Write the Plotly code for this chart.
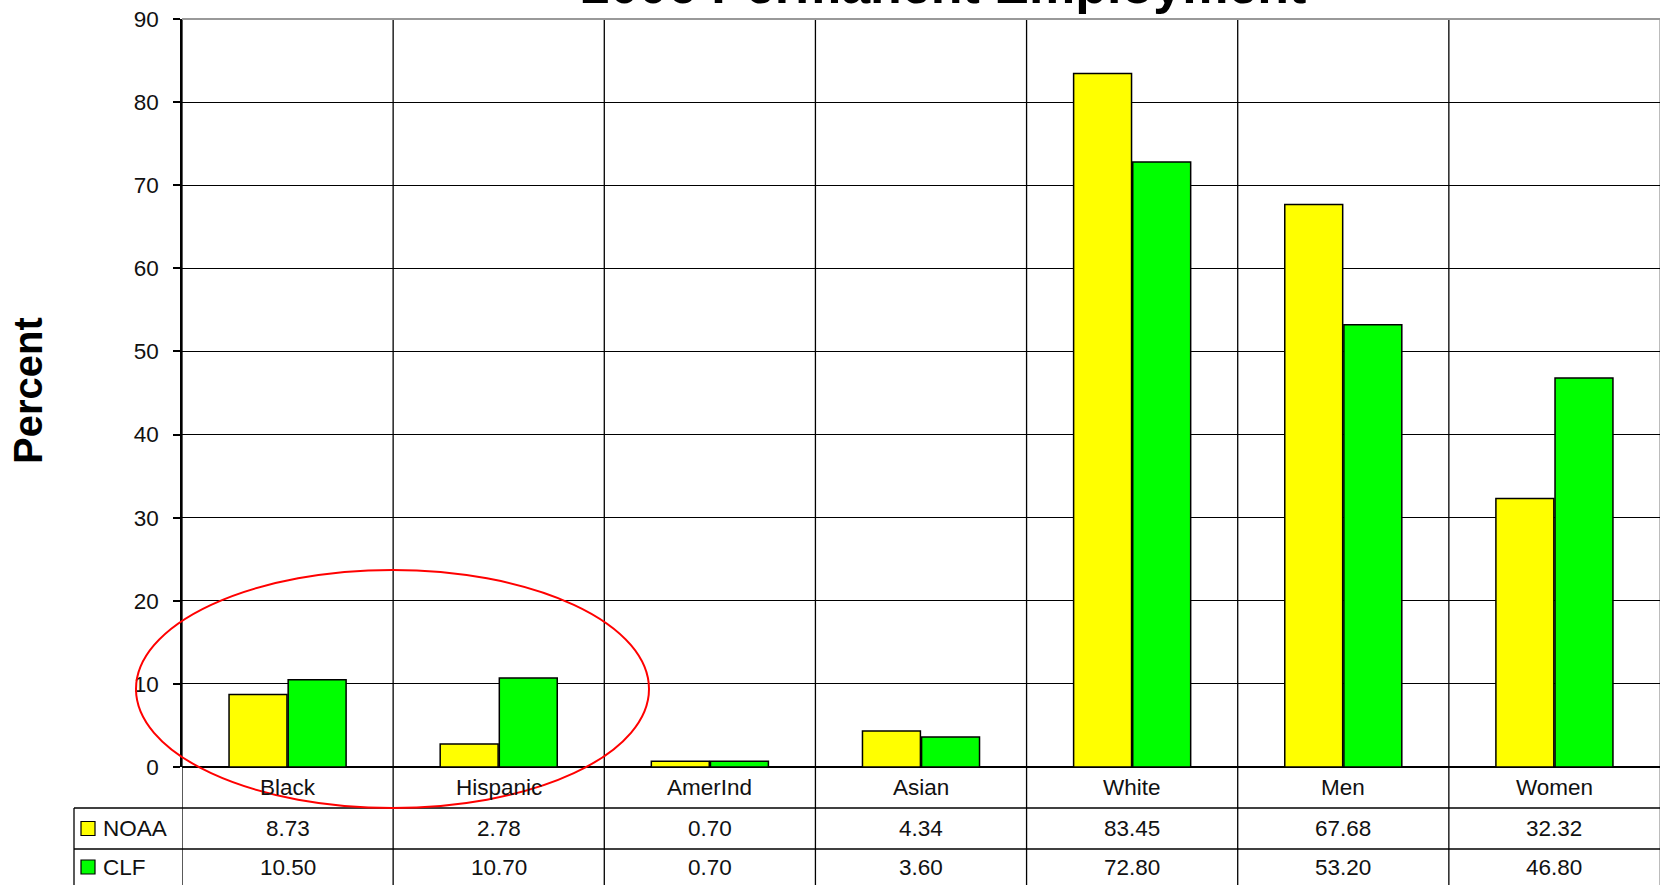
import plotly.graph_objects as go

categories = ["Black", "Hispanic", "AmerInd", "Asian", "White", "Men", "Women"]
noaa = [8.73, 2.78, 0.70, 4.34, 83.45, 67.68, 32.32]
clf = [10.50, 10.70, 0.70, 3.60, 72.80, 53.20, 46.80]
series_names = ["NOAA", "CLF"]
series_colors = ["#FFFF00", "#00FF00"]
title_text = "2006 Permanent Employment"
y_ticks = list(range(0, 100, 10))

W, H = 1663, 885
ML, MR, MT, MB = 182, 3, 19, 118
PW, PH = W - ML - MR, H - MT - MB

def px(x):
    return (x - ML) / PW

def py(y):
    return (H - MB - y) / PH

FONT = "Liberation Sans, Arial, sans-serif"
TFS = 22.5

fig = go.Figure()
for name, vals, col in zip(series_names, [noaa, clf], series_colors):
    fig.add_trace(go.Bar(x=categories, y=vals, name=name, marker=dict(color=col, line=dict(color="black", width=1.5))))

shapes = []
annotations = []
n = len(categories)
# vertical grid/table lines at category boundaries
for i in range(n + 1):
    xb = i - 0.5
    col = "#999999" if i == n else "black"
    shapes.append(dict(type="line", xref="x", yref="paper", x0=xb, x1=xb, y0=py(H), y1=1,
                       line=dict(color=col, width=1.3), layer="below"))
# top border grey
shapes.append(dict(type="line", xref="paper", yref="paper", x0=0, x1=1, y0=1, y1=1,
                   line=dict(color="#999999", width=2), layer="above"))
# table horizontal lines
for yy in [808, 849]:
    shapes.append(dict(type="line", xref="paper", yref="paper", x0=px(74), x1=px(1660), y0=py(yy), y1=py(yy),
                       line=dict(color="black", width=1.3)))
shapes.append(dict(type="line", xref="paper", yref="paper", x0=px(74), x1=px(74), y0=py(808), y1=py(H),
                   line=dict(color="black", width=1.3)))

row_mid = [828.5, 867]
for r, (name, vals, col) in enumerate(zip(series_names, [noaa, clf], series_colors)):
    ym = row_mid[r]
    shapes.append(dict(type="rect", xref="paper", yref="paper", x0=px(81), x1=px(95), y0=py(ym - 7), y1=py(ym + 7),
                       fillcolor=col, line=dict(color="black", width=1.2)))
    annotations.append(dict(text=name, xref="paper", yref="paper", x=px(101), y=py(ym), xanchor="left", yanchor="middle",
                            showarrow=False, font=dict(family=FONT, size=TFS, color="#111111")))
    for c, v in zip(categories, vals):
        annotations.append(dict(text=f"{v:.2f}", xref="x", yref="paper", x=c, y=py(ym), xanchor="center", yanchor="middle",
                                showarrow=False, font=dict(family=FONT, size=TFS, color="#111111")))
for c in categories:
    annotations.append(dict(text=c, xref="x", yref="paper", x=c, y=py(787.5), xanchor="center", yanchor="middle",
                            showarrow=False, font=dict(family=FONT, size=TFS, color="#111111")))

# title (cut off at top)
annotations.append(dict(text="<b>" + title_text + "</b>", xref="paper", yref="paper", x=px(943), y=py(16),
                        xanchor="center", yanchor="bottom", showarrow=False,
                        font=dict(family=FONT, size=52, color="black")))
# y-axis title
annotations.append(dict(text="<b>Percent</b>", xref="paper", yref="paper", x=px(28), y=py(391), textangle=-90,
                        xanchor="center", yanchor="middle", showarrow=False,
                        font=dict(family=FONT, size=40, color="black")))

# red ellipse highlight
shapes.append(dict(type="circle", xref="paper", yref="paper", x0=px(136), x1=px(649), y0=py(808), y1=py(570),
                   line=dict(color="#FF0000", width=2)))

fig.update_layout(
    width=W, height=H,
    margin=dict(l=ML, r=MR, t=MT, b=MB),
    paper_bgcolor="white", plot_bgcolor="white",
    barmode="group", bargap=0.44, bargroupgap=0.02,
    showlegend=False,
    shapes=shapes, annotations=annotations,
    font=dict(family=FONT, size=TFS, color="#111111"),
    xaxis=dict(showticklabels=False, showgrid=False, ticks="", showline=False, zeroline=False, range=[-0.5, n - 0.5]),
    yaxis=dict(range=[0, 90], tickvals=y_ticks, showgrid=True, gridcolor="black", gridwidth=1.3,
               zeroline=True, zerolinecolor="black", zerolinewidth=1.5,
               showline=True, linecolor="black", linewidth=1.5,
               ticks="outside", ticklen=7, tickcolor="black", tickwidth=1.5,
               ticklabelstandoff=10, tickfont=dict(family=FONT, size=TFS, color="#111111")),
)

fig.write_html("out.html",
               config={"displayModeBar": False},
               post_script="document.body.style.margin='0';document.body.style.padding='0';"
                           "document.body.style.overflow='hidden';document.documentElement.style.overflow='hidden';")
